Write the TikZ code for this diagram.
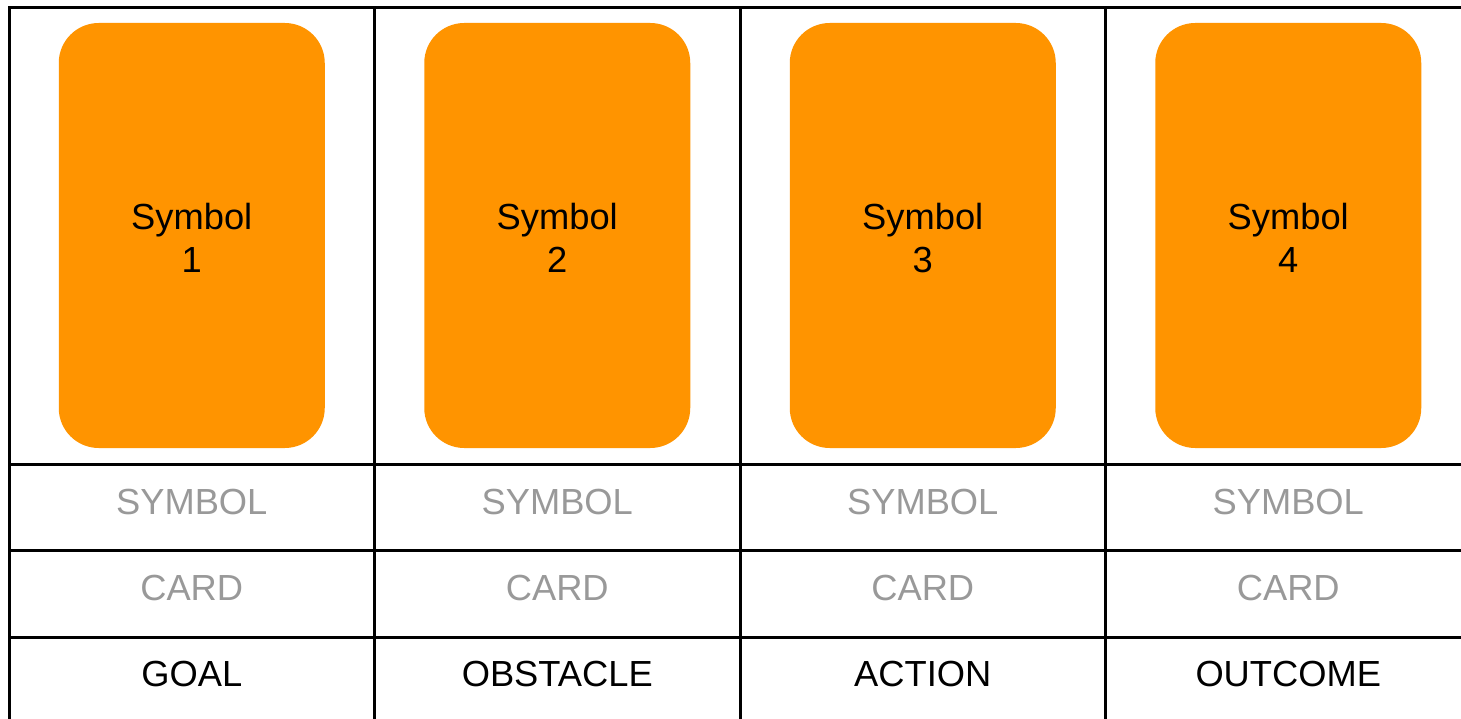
\documentclass[tikz,border=0pt]{standalone}
\usepackage{fontspec}
\setmainfont{Liberation Sans}
\definecolor{cardorange}{RGB}{255,148,0}
\definecolor{labelgray}{RGB}{153,153,153}
\begin{document}
\begin{tikzpicture}[x=1pt,y=-1pt,
  gridline/.style={line width=3pt, draw=black},
  card/.style={fill=cardorange, draw=none, rounded corners=40pt, minimum width=266pt, minimum height=425pt, inner sep=0pt},
  cardtext/.style={font=\fontsize{36.3}{42.4}\selectfont, align=center, text=black},
  celltext/.style={font=\fontsize{36.3}{42.4}\selectfont, anchor=base},
  ]
\useasboundingbox (0,0) rectangle (1461,719);
\clip (0,0) rectangle (1461,719);
\fill[white] (0,0) rectangle (1461,719);
% cards and labels
\foreach \i/\lab in {1/GOAL,2/OBSTACLE,3/ACTION,4/OUTCOME}{
  \pgfmathsetmacro{\cx}{9+365.5*(\i-1)+182.75}
  \node[card] (card\i) at (\cx,235.5) {};
  \node[cardtext, yshift=-2.5pt] (cardlabel\i) at (card\i.center) {Symbol\\\i};
  \node[celltext, text=labelgray] (sym\i) at (\cx,514.3) {SYMBOL};
  \node[celltext, text=labelgray] (crd\i) at (\cx,600.7) {CARD};
  \node[celltext, text=black] (role\i) at (\cx,686) {\lab};
}
% grid
\draw[gridline] (1480,8) -- (9,8) -- (9,730);
\draw[gridline] (9,464) -- (1480,464);
\draw[gridline] (9,550.5) -- (1480,550.5);
\draw[gridline] (9,637) -- (1480,637);
\draw[gridline] (374.5,8) -- (374.5,730);
\draw[gridline] (740,8) -- (740,730);
\draw[gridline] (1105.5,8) -- (1105.5,730);
\end{tikzpicture}
\end{document}
